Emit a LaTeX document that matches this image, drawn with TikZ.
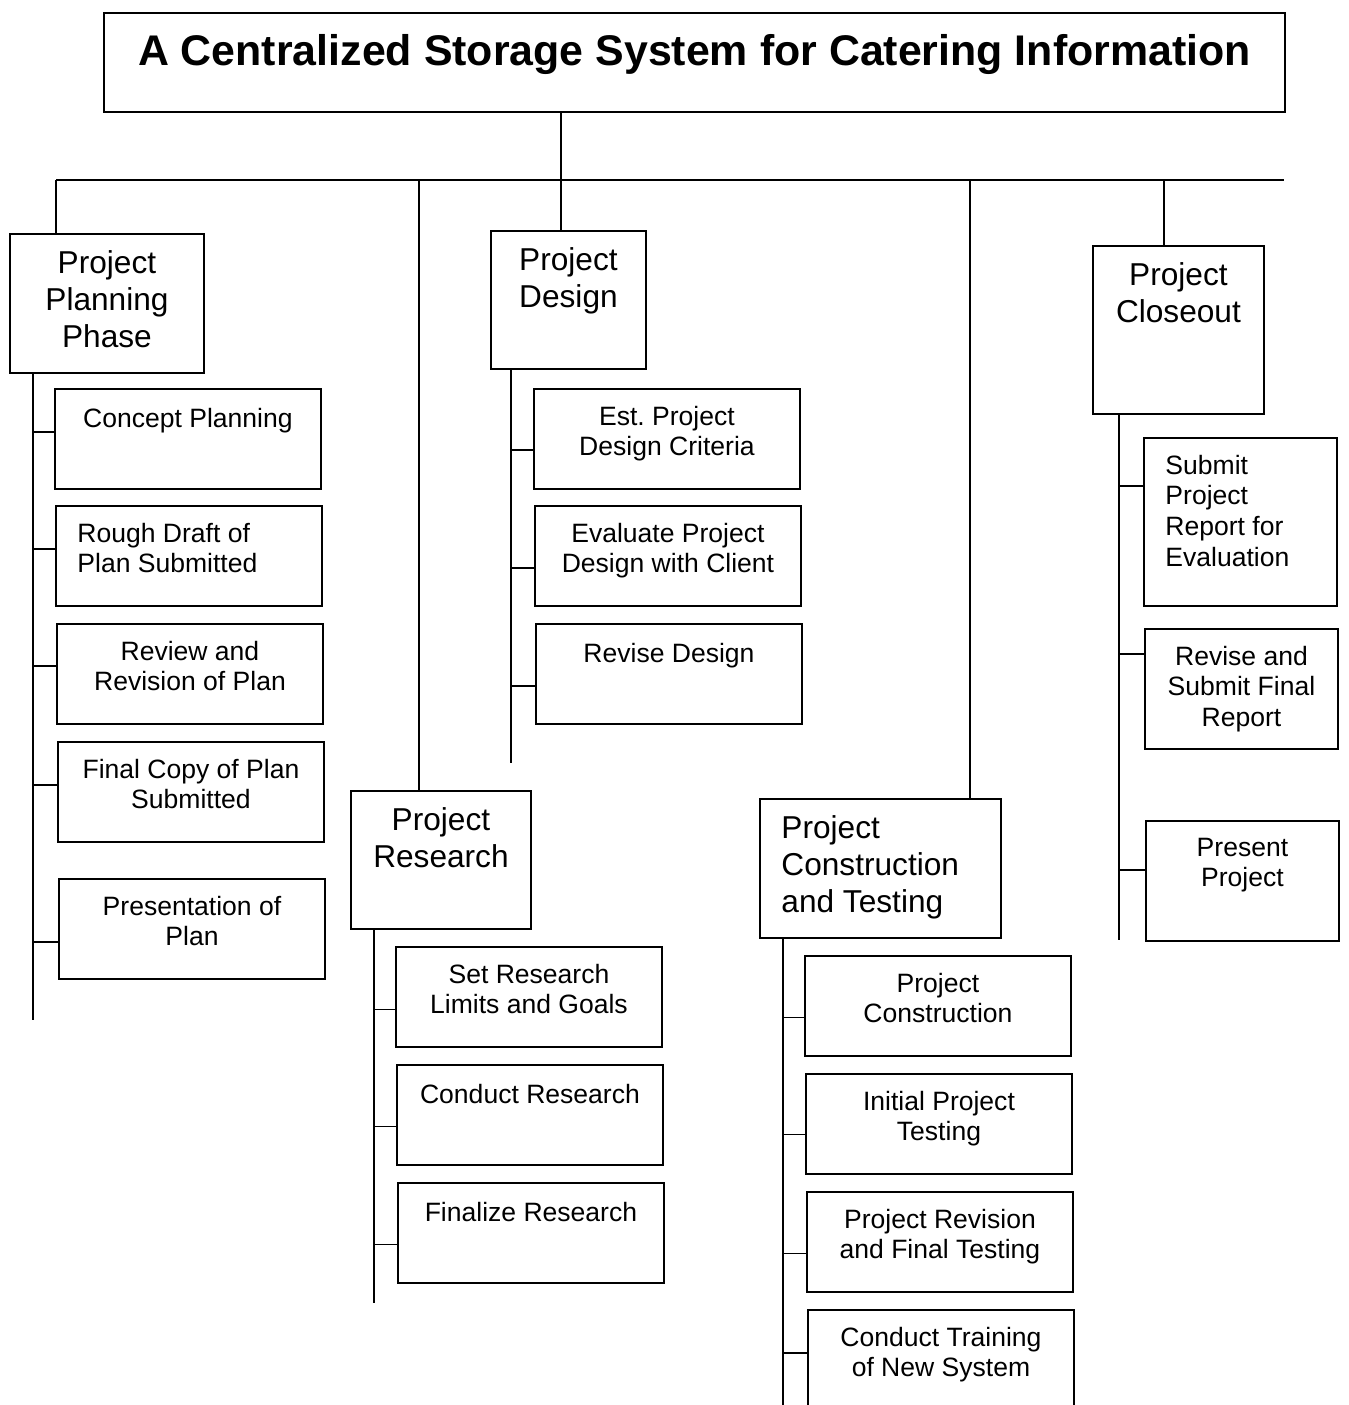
\documentclass[tikz,border=0pt]{standalone}
\usepackage{fontspec}
\setmainfont{Liberation Sans}
\frenchspacing

\tikzset{
    head/.style={draw,minimum width=23.62cm,minimum height=1.98cm},
    head text/.style={font=\fontsize{24.4}{29}\selectfont\bfseries},
    phase/.style={draw},
    phase text/.style={font=\fontsize{18}{21}\selectfont},
    sub/.style={draw,minimum width=5.32cm,minimum height=2cm},
    sub text/.style={font=\fontsize{15.1}{17.5}\selectfont},
    wh/.style 2 args={minimum width=#1cm,minimum height=#2cm},
    txt north/.style={align=center},
    txt north west/.style={align=left,xshift=0.43cm},
}

\newcommand{\Task}[6][north]{%
    \node[#2,anchor=north west,inner sep=0,#5] (#3) at (#4) {};
    \node[#2 text,inner sep=0,anchor=#1,txt #1,execute at begin node=\strut] (#3t) at ([yshift=-0.34cm]#3.#1) {#6};
}

\begin{document}
\begin{tikzpicture}[line width=1.1pt]
    \clip (0,0) rectangle (26.98,-28.1);
    \Task{head}{title}{2.06,-0.24}{}{A Centralized Storage System for Catering Information}

    \Task{phase}{plan}{0.18,-4.66}{wh={3.88}{2.78}}{Project\\Planning\\Phase}
    \Task{phase}{design}{9.8,-4.6}{wh={3.1}{2.76}}{Project\\Design}
    \Task{phase}{research}{7.0,-15.8}{wh={3.6}{2.76}}{Project\\Research}
    \Task[north west]{phase}{build}{15.18,-15.96}{wh={4.82}{2.78}}{Project\\Construction\\and Testing}
    \Task{phase}{close}{21.84,-4.9}{wh={3.42}{3.36}}{Project\\Closeout}

    \Task{sub}{p1}{1.08,-7.76}{}{Concept Planning}
    \Task[north west]{sub}{p2}{1.1,-10.1}{}{Rough Draft of\\Plan Submitted}
    \Task{sub}{p3}{1.12,-12.46}{}{Review and\\Revision of Plan}
    \Task{sub}{p4}{1.14,-14.82}{}{Final Copy of Plan\\Submitted}
    \Task{sub}{p5}{1.16,-17.56}{}{Presentation of\\Plan}

    \Task{sub}{d1}{10.66,-7.76}{}{Est. Project\\Design Criteria}
    \Task{sub}{d2}{10.68,-10.1}{}{Evaluate Project\\Design with Client}
    \Task{sub}{d3}{10.7,-12.46}{}{Revise Design}

    \Task{sub}{r1}{7.9,-18.92}{}{Set Research\\Limits and Goals}
    \Task{sub}{r2}{7.92,-21.28}{}{Conduct Research}
    \Task{sub}{r3}{7.94,-23.64}{}{Finalize Research}

    \Task{sub}{c1}{16.08,-19.1}{}{Project\\Construction}
    \Task{sub}{c2}{16.1,-21.46}{}{Initial Project\\Testing}
    \Task{sub}{c3}{16.12,-23.82}{}{Project Revision\\and Final Testing}
    \Task{sub}{c4}{16.14,-26.18}{}{Conduct Training\\of New System}

    \Task[north west]{sub}{s1}{22.86,-8.74}{wh={3.86}{3.36}}{Submit\\Project\\Report for\\Evaluation}
    \Task{sub}{s2}{22.88,-12.56}{wh={3.86}{2.4}}{Revise and\\Submit Final\\Report}
    \Task{sub}{s3}{22.9,-16.4}{wh={3.86}{2.4}}{Present\\Project}

    \coordinate (b1) at (1.12,-3.6);
    \coordinate (b2) at (8.38,-3.6);
    \coordinate (b3) at (11.22,-3.6);
    \coordinate (b4) at (19.4,-3.6);
    \coordinate (b5) at (23.28,-3.6);
    \coordinate (b6) at (25.68,-3.6);
    \draw (b1) -- (b6);
    \draw (b1) -- (b1 |- plan.north);
    \draw (b2) -- (b2 |- research.north);
    \draw (b3 |- title.south) -- (b3 |- design.north);
    \draw (b4) -- (b4 |- build.north);
    \draw (b5) -- (b5 |- close.north);

    \coordinate (pe) at (0.66,-20.4);
    \coordinate (de) at (10.22,-15.26);
    \coordinate (re) at (7.48,-26.06);
    \coordinate (ce) at (15.66,-28.4);
    \coordinate (se) at (22.38,-18.8);
    \draw (plan.south -| pe) -- (pe);
    \draw (design.south -| de) -- (de);
    \draw (research.south -| re) -- (re);
    \draw (build.south -| ce) -- (ce);
    \draw (close.south -| se) -- (se);

    \foreach \b/\d/\e in {p1/0.14/pe,p2/0.14/pe,p3/0.16/pe,p4/0.14/pe,p5/-0.26/pe,
            d1/-0.22/de,d2/-0.24/de,d3/-0.24/de,
            r1/-0.25/re,r2/-0.23/re,r3/-0.23/re,
            c1/-0.23/ce,c2/-0.21/ce,c3/-0.23/ce,c4/0.14/ce,
            s1/0.72/se,s2/0.7/se,s3/0.22/se}
        \draw ([yshift=\d cm]\b.west) -- ([yshift=\d cm]\b.west -| \e);
\end{tikzpicture}
\end{document}
